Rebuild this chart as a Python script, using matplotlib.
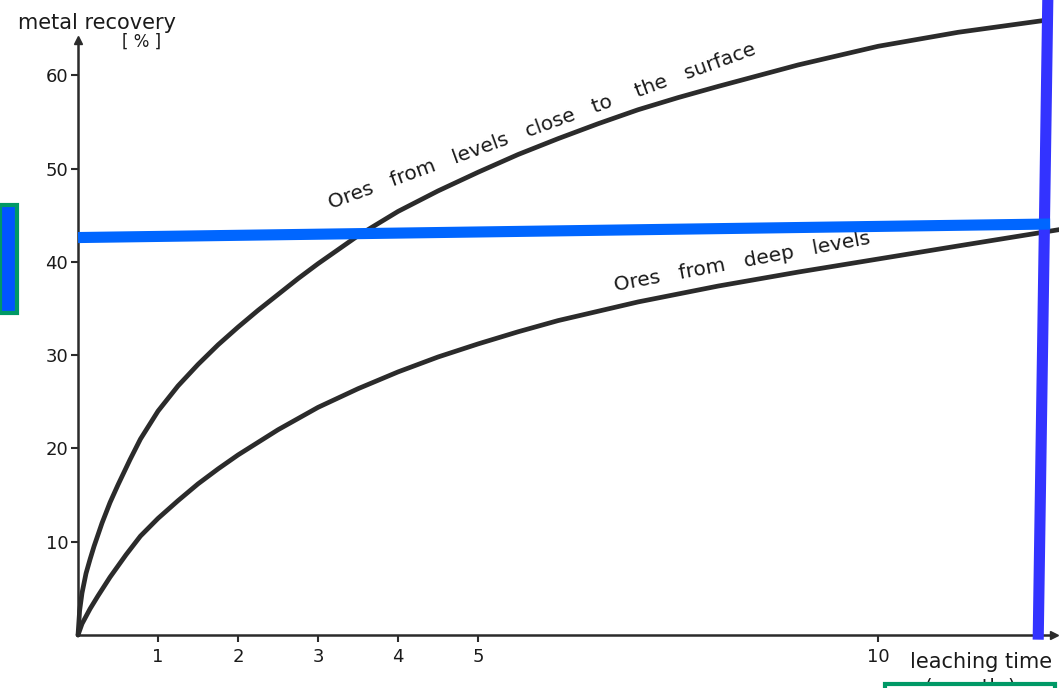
import numpy as np
import matplotlib
matplotlib.use("Agg")
import matplotlib.pyplot as plt
from matplotlib.patches import Rectangle

months_surface = [0, 0.02, 0.05, 0.1, 0.15, 0.2, 0.3, 0.4, 0.5, 0.65, 0.78, 1, 1.25, 1.5, 1.75, 2, 2.25,
                  2.5, 2.75, 3, 3.5, 4, 4.5, 5, 5.5, 6, 6.5, 7, 7.5, 8, 9, 10, 11, 12.1]
recov_surface = [0, 2.6, 4.5, 6.6, 8.1, 9.5, 12.0, 14.2, 16.1, 18.8, 21.0, 24.0, 26.7, 29.0, 31.1, 33.0, 34.8,
                 36.5, 38.2, 39.8, 42.8, 45.4, 47.6, 49.6, 51.5, 53.2, 54.8, 56.3, 57.6, 58.8, 61.1, 63.1, 64.6, 65.9]

months_deep = [0, 0.05, 0.1, 0.15, 0.25, 0.4, 0.6, 0.78, 1, 1.25, 1.5, 1.75, 2, 2.5, 3, 3.5, 4, 4.5, 5,
               5.5, 6, 7, 8, 9, 10, 11, 12.3]
recov_deep = [0, 1.2, 2.0, 2.8, 4.2, 6.2, 8.6, 10.6, 12.5, 14.4, 16.2, 17.8, 19.3, 22.0, 24.4, 26.4, 28.2,
              29.8, 31.2, 32.5, 33.7, 35.7, 37.4, 38.9, 40.3, 41.7, 43.5]

x_ticks = [1, 2, 3, 4, 5, 10]
y_ticks = [10, 20, 30, 40, 50, 60]

# blue marker lines drawn over the scan
hline_x = [0, 12.15]
hline_y = [42.6, 44.05]
vline_x = [12.12, 12.0]
vline_y = [68.1, -0.5]

ink = "#2b2b2b"

fig = plt.figure(figsize=(10.59, 6.88), dpi=100)
ax = fig.add_axes([0, 0, 1, 1])
ax.set_xlim(-0.975, 12.26)
ax.set_ylim(-5.68, 68.06)

ax.plot(months_surface, recov_surface, color=ink, lw=3.4, solid_capstyle="round", solid_joinstyle="round")
ax.plot(months_deep, recov_deep, color=ink, lw=3.4, solid_capstyle="round", solid_joinstyle="round")

# axes as arrows through the origin
for s in ["top", "right"]:
    ax.spines[s].set_visible(False)
ax.spines["left"].set_position(("data", 0))
ax.spines["bottom"].set_position(("data", 0))
ax.spines["left"].set_bounds(0, 63.6)
ax.spines["bottom"].set_bounds(0, 12.15)
for s in ["left", "bottom"]:
    ax.spines[s].set_linewidth(1.8)
    ax.spines[s].set_color(ink)
ax.plot(0, 63.8, marker="^", ms=6, color=ink, clip_on=False)
ax.plot(12.2, 0, marker=">", ms=6, color=ink, clip_on=False)

ax.set_xticks(x_ticks)
ax.set_xticklabels([str(t) for t in x_ticks])
ax.set_yticks(y_ticks)
ax.set_yticklabels([str(t) for t in y_ticks])
ax.tick_params(axis="both", direction="out", length=5, width=1.5, color=ink,
               labelsize=13, labelcolor="#1a1a1a", pad=4)
ax.tick_params(axis="y", pad=2)

ax.text(-0.75, 65.0, "metal recovery", fontsize=15, color="#1a1a1a", va="baseline")
ax.text(0.8, 63.0, "[ % ]", fontsize=12, color="#1a1a1a", ha="center", va="baseline")
ax.text(10.4, -2.9, "leaching time", fontsize=15, color="#1a1a1a", va="center")
ax.text(11.15, -5.6, "( month )", fontsize=14, color="#1a1a1a", ha="center", va="center")

ax.text(5.8, 54.5, "Ores   from   levels   close   to    the   surface", fontsize=14.5,
        color="#1a1a1a", rotation=20, ha="center", va="center", rotation_mode="anchor")
ax.text(8.3, 40.0, "Ores   from   deep   levels", fontsize=14.5, color="#1a1a1a",
        rotation=10.5, ha="center", va="center", rotation_mode="anchor")

ax.plot(vline_x, vline_y, color="#3333ff", lw=8, solid_capstyle="butt", clip_on=False, zorder=5)
ax.plot(hline_x, hline_y, color="#0066ff", lw=8, solid_capstyle="butt", zorder=6)

# boxes on the figure edges
fig.patches.append(Rectangle((0.0, 1 - 313 / 688), 17 / 1059, 108 / 688, transform=fig.transFigure,
                             facecolor="#0055ff", edgecolor="#009966", lw=3))
fig.patches.append(Rectangle((885 / 1059, -0.02), 170 / 1059, 4 / 688 + 0.02, transform=fig.transFigure,
                             facecolor="white", edgecolor="#009966", lw=3))

fig.savefig("out.png", dpi=100)
